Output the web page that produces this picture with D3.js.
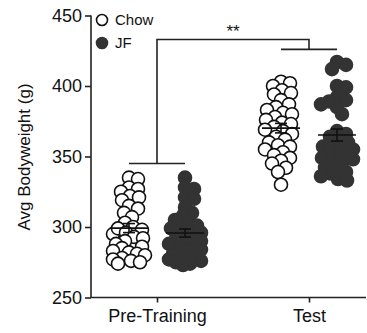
<!DOCTYPE html>
<html><head><meta charset="utf-8">
<script src="https://cdn.jsdelivr.net/npm/d3@7"></script>
<style>body{margin:0;background:#fff}svg{display:block}</style>
</head><body><svg id="c" width="367" height="333"></svg>
<script>
const timepoints = ["Pre-Training", "Test"];
const groups = ["Chow", "JF"];
const preChow = [335, 334, 287, 328, 327, 325, 322, 321, 319, 295, 315, 313, 310, 307, 303, 300, 299, 298, 296, 293, 292, 290, 288, 286, 285, 283, 282, 281, 280, 278, 277, 276, 275, 274];
const preJF = [335, 328, 327, 300, 321, 320, 296, 290, 314, 288, 310, 308, 305, 303, 301, 299, 297, 296, 294, 292, 290, 289, 287, 285, 284, 283, 281, 279, 278, 277, 276, 275, 274, 273];
const testChow = [403, 402, 400, 397, 395, 394, 390, 387, 385, 383, 381, 380, 378, 376, 374, 373, 371, 369, 368, 366, 364, 362, 360, 358, 357, 355, 353, 351, 349, 347, 345, 342, 339, 330];
const testJF = [417, 415, 412, 400, 399, 392, 390, 389, 387, 385, 360, 380, 358, 356, 350, 348, 368, 366, 364, 362, 357, 355, 353, 351, 349, 347, 345, 342, 340, 339, 338, 336, 334, 333];
const yTicks = [250, 300, 350, 400, 450];
const sigLabel = "**";
const bracketLevels = [345, 426, 433]; // pre-group bar, test-group bar, top

const series = [
  {t: "Pre-Training", g: "Chow", v: preChow},
  {t: "Pre-Training", g: "JF", v: preJF},
  {t: "Test", g: "Chow", v: testChow},
  {t: "Test", g: "JF", v: testJF}
];

const svg = d3.select("#c");
const font = "Arial, 'Liberation Sans', Helvetica, sans-serif";
const y = d3.scaleLinear().domain([250, 450]).range([297.5, 15.5]);
const x = d3.scalePoint().domain(timepoints).range([157, 309]);
const gx = d3.scalePoint().domain(groups).range([-28, 28]);
const R = 6.5;

// axes
const yAxis = d3.axisLeft(y).tickValues(yTicks).tickSize(6).tickPadding(3);
const ya = svg.append("g").attr("transform", "translate(91,0)").call(yAxis);
ya.select(".domain").attr("d", `M0,${y(450)}V${y(250)+0.5}`);
const xAxis = d3.axisBottom(x).tickSize(5).tickPadding(4);
const xa = svg.append("g").attr("transform", `translate(0,${y(250)})`).call(xAxis);
xa.select(".domain").attr("d", "M91,0H366");
[ya, xa].forEach(a => {
  a.selectAll("path,line").attr("stroke", "#222").attr("stroke-width", 1.6);
  a.selectAll("text").attr("font-family", font).attr("font-size", 18).attr("fill", "#111");
});
xa.selectAll("text").attr("dy", "0.85em");

svg.append("text").attr("transform", "translate(30,157) rotate(-90)")
  .attr("text-anchor", "middle").attr("font-family", font).attr("font-size", 17)
  .attr("fill", "#111").text("Avg Bodyweight (g)");

// beeswarm placement (deterministic)
function swarm(vals, cx) {
  const placed = [];
  const order = vals.map((v, i) => i).sort((a, b) => vals[b] - vals[a]);
  const minD = 8.5, maxOff = 16;
  const out = new Array(vals.length);
  order.forEach(i => {
    const py = y(vals[i]);
    let best = null, bestScore = -1;
    for (let k = 0; k <= maxOff * 2; k++) {
      const off = (k % 2 ? 1 : -1) * Math.ceil(k / 2);
      const px = cx + off;
      let md = Infinity;
      placed.forEach(p => { md = Math.min(md, Math.hypot(p[0] - px, p[1] - py)); });
      if (md >= minD) { best = px; break; }
      if (md > bestScore) { bestScore = md; best = px; }
    }
    placed.push([best, py]);
    out[i] = [best, py];
  });
  return out;
}

series.forEach(s => {
  const cx = x(s.t) + gx(s.g);
  const pts = swarm(s.v, cx);
  const chow = s.g === "Chow";
  svg.append("g").selectAll("circle").data(pts).join("circle")
    .attr("cx", d => d[0]).attr("cy", d => d[1]).attr("r", R)
    .attr("fill", chow ? "#fff" : "#333")
    .attr("stroke", chow ? "#111" : "#333").attr("stroke-width", 1.6);
  const m = d3.mean(s.v);
  const sem = d3.deviation(s.v) / Math.sqrt(s.v.length);
  const g = svg.append("g").attr("stroke", "#111").attr("stroke-width", 1.6);
  g.append("line").attr("x1", cx - 19).attr("x2", cx + 19).attr("y1", y(m)).attr("y2", y(m));
  g.append("line").attr("x1", cx).attr("x2", cx).attr("y1", y(m - sem)).attr("y2", y(m + sem));
  [m - sem, m + sem].forEach(v => g.append("line").attr("x1", cx - 6).attr("x2", cx + 6).attr("y1", y(v)).attr("y2", y(v)));
});

// significance bracket
const b = svg.append("g").attr("stroke", "#222").attr("stroke-width", 1.6).attr("fill", "none");
const preL = x("Pre-Training") + gx("Chow"), preR = x("Pre-Training") + gx("JF");
const tL = x("Test") + gx("Chow"), tR = x("Test") + gx("JF");
b.append("line").attr("x1", preL).attr("x2", preR).attr("y1", y(bracketLevels[0])).attr("y2", y(bracketLevels[0]));
b.append("line").attr("x1", tL).attr("x2", tR).attr("y1", y(bracketLevels[1])).attr("y2", y(bracketLevels[1]));
b.append("path").attr("d", `M${x("Pre-Training")},${y(bracketLevels[0])}V${y(bracketLevels[2])}H${x("Test")}V${y(bracketLevels[1])}`);
svg.append("text").attr("x", (x("Pre-Training") + x("Test")) / 2).attr("y", 37)
  .attr("text-anchor", "middle").attr("font-family", font).attr("font-size", 17).attr("fill", "#111").text(sigLabel);

// legend
const leg = svg.append("g").selectAll("g").data(groups).join("g")
  .attr("transform", (d, i) => `translate(102,${20 + i * 23})`);
leg.append("circle").attr("r", 5.5)
  .attr("fill", d => d === "Chow" ? "#fff" : "#333")
  .attr("stroke", d => d === "Chow" ? "#111" : "#333").attr("stroke-width", 1.6);
leg.append("text").attr("x", 13).attr("dy", "0.35em").attr("font-family", font)
  .attr("font-size", 15).attr("fill", "#111").text(d => d);
</script></body></html>
